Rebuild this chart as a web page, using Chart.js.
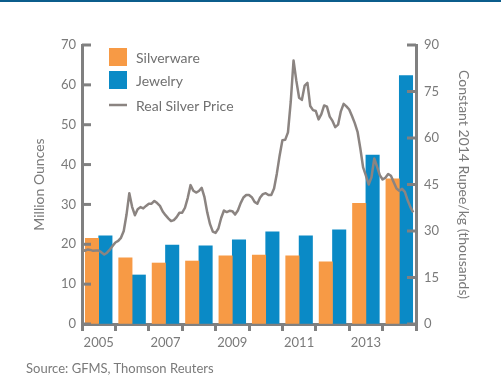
<!DOCTYPE html>
<html><head><meta charset="utf-8">
<script src="https://cdn.jsdelivr.net/npm/chart.js@4"></script>
<style>
html,body{margin:0;padding:0;background:#fff;}
#wrap{position:relative;width:501px;height:381px;overflow:hidden;background:#fff;}
#topbar{position:absolute;left:0;top:0;width:501px;height:2px;background:#0b5d8c;}
#source{position:absolute;left:26px;top:360px;font:13px Lato, sans-serif;color:#7a7a7a;white-space:nowrap;}
canvas{position:absolute;left:0;top:0;}
</style></head><body>
<div id="wrap"><canvas id="c" width="501" height="381"></canvas><div id="topbar"></div><div id="source">Source: GFMS, Thomson Reuters</div></div>
<script>
const years = ['2005','2006','2007','2008','2009','2010','2011','2012','2013','2014'];
const xTickLabels = ['2005','','2007','','2009','','2011','','2013',''];
const silverware = [21.5,16.6,15.3,15.8,17.1,17.3,17.1,15.6,30.3,36.4];
const jewelry = [22.1,12.3,19.8,19.6,21.1,23.1,22.1,23.6,42.4,62.3];
// Monthly real silver price, Jan 2005 - Dec 2014 (constant 2014 rupee/kg, thousands)
const priceValues = [
24.3,23.6,24.0,23.9,23.6,23.7,23.7,23.1,22.4,23.0,24.0,25.2,
26.3,26.8,27.8,30.0,35.3,42.2,37.8,35.1,37.0,37.7,37.3,38.1,
38.8,38.8,39.7,39.0,38.1,36.3,35.1,34.1,33.2,33.5,34.5,35.9,
35.9,37.5,40.7,44.8,43.0,42.4,42.9,43.9,40.9,36.0,32.2,29.8,
29.4,30.8,34.2,36.6,36.1,36.5,36.4,35.3,36.6,39.0,40.8,41.6,
41.6,40.9,39.4,38.8,40.8,41.9,42.2,41.6,41.6,43.7,48.5,54.3,
59.3,59.4,61.8,71.7,85.0,78.5,73.0,72.3,76.9,77.8,70.3,69.0,
68.7,66.0,67.7,70.5,70.1,66.9,65.5,63.5,64.3,68.6,71.0,70.2,
69.2,67.1,64.8,62.0,56.6,50.5,47.9,45.0,47.3,53.4,50.8,48.0,
46.6,47.2,48.4,47.8,45.7,43.7,43.0,43.6,42.6,39.9,37.7,36.0];
const leftTicks = [0,10,20,30,40,50,60,70];
const rightTicks = [0,15,30,45,60,75,90];

const AXIS = '#808080';
const TXT = '#7a7a7a';
const ORANGE = '#f79a45';
const BLUE = '#0a8ac6';
const LINE = '#8b8481';
const FONT = 'Lato, "Open Sans", sans-serif';

const innerTicks = {
  id: 'innerTicks',
  afterDatasetsDraw(chart) {
    const ctx = chart.ctx, ca = chart.chartArea;
    ctx.save();
    ctx.strokeStyle = AXIS; ctx.lineWidth = 3; ctx.lineCap = 'butt';
    const y = chart.scales.y, y1 = chart.scales.y1;
    y.ticks.forEach(t => {
      const p = y.getPixelForValue(t.value);
      ctx.beginPath(); ctx.moveTo(ca.left, p); ctx.lineTo(ca.left + 9, p); ctx.stroke();
    });
    y1.ticks.forEach(t => {
      const p = y1.getPixelForValue(t.value);
      ctx.beginPath(); ctx.moveTo(ca.right, p); ctx.lineTo(ca.right - 9, p); ctx.stroke();
    });
    ctx.restore();
  }
};

const legendPlugin = {
  id: 'customLegend',
  afterDraw(chart) {
    const ctx = chart.ctx, ca = chart.chartArea;
    const ds = chart.data.datasets;
    const bx = ca.left + 27, tx = ca.left + 54;
    ctx.save();
    ctx.font = '14px ' + FONT;
    ctx.textBaseline = 'middle';
    const rows = [{d: ds[1], cy: ca.top + 12}, {d: ds[2], cy: ca.top + 35}, {d: ds[0], cy: ca.top + 60}];
    rows.forEach(r => {
      if (r.d.type === 'line') {
        ctx.strokeStyle = r.d.borderColor; ctx.lineWidth = 2.5;
        ctx.beginPath(); ctx.moveTo(bx, r.cy); ctx.lineTo(bx + 18, r.cy); ctx.stroke();
      } else {
        ctx.fillStyle = r.d.backgroundColor;
        ctx.fillRect(bx, r.cy - 9, 18, 18);
      }
      ctx.fillStyle = '#707070';
      ctx.fillText(r.d.label, tx, r.cy + 1);
    });
    ctx.restore();
  }
};

new Chart(document.getElementById('c'), {
  type: 'bar',
  data: {
    labels: years,
    datasets: [
      { type: 'line', label: 'Real Silver Price', data: priceValues.map((v, i) => ({x: i, y: v})),
        xAxisID: 'xm', yAxisID: 'y1', borderColor: LINE, borderWidth: 2.5, pointRadius: 0,
        tension: 0, order: 0, borderJoinStyle: 'round' },
      { label: 'Silverware', data: silverware, backgroundColor: ORANGE, yAxisID: 'y', xAxisID: 'x',
        barThickness: 13.4, order: 1 },
      { label: 'Jewelry', data: jewelry, backgroundColor: BLUE, yAxisID: 'y', xAxisID: 'x',
        barThickness: 13.4, order: 1 }
    ]
  },
  options: {
    responsive: false, animation: false, devicePixelRatio: 1,
    layout: { padding: { top: 45, left: 0, right: 0, bottom: 0 } },
    plugins: { legend: { display: false }, tooltip: { enabled: false } },
    scales: {
      x: {
        type: 'category', position: 'bottom',
        grid: { display: true, drawOnChartArea: false, drawTicks: true, tickLength: 7, lineWidth: 3, color: AXIS, offset: true },
        border: { display: true, color: AXIS, width: 3 },
        ticks: { color: TXT, font: { family: FONT, size: 13 }, padding: 4, maxRotation: 0, autoSkip: false,
          callback: (v, i) => xTickLabels[i] },
        afterFit: s => { s.height = 57; }
      },
      xm: { type: 'linear', position: 'top', display: true, min: 0, max: 120, offset: false,
        ticks: { display: false }, grid: { display: false, drawTicks: false, offset: false }, border: { display: false },
        afterFit: s => { s.height = 0; } },
      y: {
        position: 'left', min: 0, max: 70,
        afterBuildTicks: s => { s.ticks = leftTicks.map(v => ({value: v})); },
        grid: { display: true, drawOnChartArea: false, drawTicks: false },
        border: { display: true, color: AXIS, width: 3 },
        ticks: { color: TXT, font: { family: FONT, size: 13 }, padding: 6 },
        title: { display: true, text: 'Million Ounces', color: TXT, font: { family: FONT, size: 14 }, padding: { top: 31, bottom: 0 } },
        afterFit: s => { s.width = 82; }
      },
      y1: {
        position: 'right', min: 0, max: 90,
        afterBuildTicks: s => { s.ticks = rightTicks.map(v => ({value: v})); },
        grid: { display: true, drawOnChartArea: false, drawTicks: false },
        border: { display: true, color: AXIS, width: 3 },
        ticks: { color: TXT, font: { family: FONT, size: 13 }, padding: 8 },
        title: { display: true, text: 'Constant 2014 Rupee/kg (thousands)', color: TXT, font: { family: FONT, size: 14 }, padding: { top: 29, bottom: 0 } },
        afterFit: s => { s.width = 85; }
      }
    }
  },
  plugins: [innerTicks, legendPlugin]
});
</script>
</body></html>
